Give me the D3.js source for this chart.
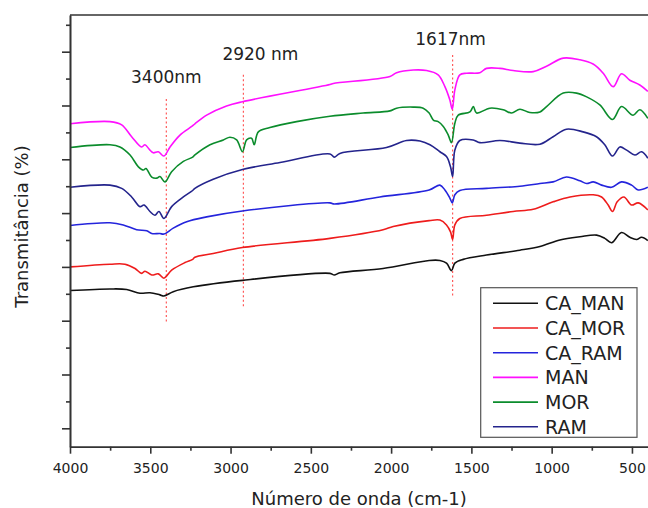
<!DOCTYPE html>
<html>
<head>
<meta charset="utf-8">
<script src="https://cdn.jsdelivr.net/npm/d3@7"></script>
<style>
  html, body { margin: 0; padding: 0; background: #fff; }
  svg { display: block; font-family: "DejaVu Sans", Verdana, sans-serif; }
</style>
</head>
<body>
<svg id="chart" width="648" height="508"></svg>
<script>
// ---- Data (wavenumber cm-1, transmittance in arbitrary units) ----
const seriesNames = ["CA_MAN", "CA_MOR", "CA_RAM", "MAN", "MOR", "RAM"];
const seriesColors = ["#111111", "#ee1c1c", "#2424dc", "#ff10ff", "#0b8c2c", "#24248c"];

const CA_MAN = [[4000,25.6],[3751,25.9],[3647,25.8],[3564,25.1],[3502,25.2],[3440,24.8],[3415,24.6],[3357,25.4],[3232,26.3],[2926,27.5],[2381,28.8],[2354,28.5],[2319,28.9],[2050,29.7],[1763,31.2],[1696,31.2],[1655,30.7],[1624,29.3],[1603,30.7],[1551,31.4],[1406,32.2],[1198,33.1],[1073,33.8],[949,35.0],[824,35.6],[720,35.9],[669,35.3],[627,34.5],[565,36.4],[513,35.5],[471,35.1],[440,35.5],[401,34.9]];

const CA_MOR = [[4000,30.0],[3751,30.5],[3658,30.5],[3595,29.7],[3554,28.8],[3533,29.2],[3491,28.5],[3450,28.7],[3415,27.9],[3367,29.4],[3284,30.8],[3236,31.4],[3222,31.8],[3108,32.5],[2926,33.6],[2381,35.3],[2050,36.9],[1987,37.5],[1763,38.6],[1696,38.7],[1655,37.8],[1630,36.5],[1617,35.1],[1603,37.8],[1572,39.0],[1406,39.6],[1240,40.3],[1115,40.7],[991,42.1],[886,43.0],[741,43.4],[689,43.0],[648,41.5],[621,40.3],[592,42.1],[550,43.0],[502,41.5],[461,41.9],[401,40.6]];

const CA_RAM = [[4000,37.7],[3751,38.2],[3668,37.8],[3585,36.9],[3522,36.7],[3491,36.2],[3440,36.2],[3415,36.1],[3357,37.2],[3273,38.4],[3149,39.3],[2926,40.4],[2381,41.9],[2354,41.7],[2070,43.0],[1763,44.3],[1696,45.2],[1665,44.3],[1634,42.8],[1619,41.9],[1603,43.4],[1572,44.2],[1406,44.6],[1198,45.0],[1073,45.5],[991,45.8],[908,46.7],[824,46.0],[782,45.5],[741,45.8],[689,45.2],[627,44.8],[565,45.8],[502,45.2],[461,44.3],[401,44.8]];

const MAN = [[4000,56.6],[3751,57.0],[3678,56.4],[3616,54.2],[3554,52.3],[3533,52.7],[3502,51.7],[3481,51.2],[3450,51.4],[3415,50.6],[3377,52.3],[3315,54.5],[3242,56.1],[3222,56.6],[3149,58.2],[3025,59.9],[2926,60.7],[2381,63.9],[2360,64.1],[2007,65.4],[1966,66.1],[1862,66.6],[1779,66.5],[1707,65.7],[1665,63.5],[1634,61.0],[1619,59.3],[1603,62.9],[1572,65.7],[1530,66.0],[1447,66.1],[1406,66.9],[1322,66.9],[1240,66.5],[1115,66.3],[1032,67.3],[928,68.8],[824,68.5],[742,67.7],[679,66.0],[617,63.5],[565,65.9],[513,64.7],[451,63.8],[401,62.6]];

const MOR = [[4000,52.2],[3751,52.7],[3689,52.3],[3626,50.8],[3574,48.6],[3543,48.0],[3527,48.3],[3491,46.7],[3460,46.5],[3440,46.8],[3409,45.8],[3367,47.7],[3294,49.6],[3236,50.4],[3222,50.8],[3128,52.7],[3045,53.6],[3004,54.1],[2962,53.6],[2926,51.4],[2900,53.6],[2869,53.9],[2853,52.7],[2827,55.1],[2755,55.9],[2589,57.0],[2381,58.0],[2174,58.6],[2007,59.0],[1966,59.5],[1862,59.7],[1800,59.5],[1763,58.6],[1737,57.3],[1707,57.0],[1675,56.1],[1644,54.5],[1624,53.1],[1603,56.7],[1582,58.2],[1509,58.8],[1488,59.8],[1468,58.6],[1385,59.5],[1302,59.2],[1250,58.6],[1198,59.3],[1136,58.7],[1073,58.8],[1032,59.8],[928,62.3],[845,62.3],[782,61.6],[700,60.1],[621,57.4],[565,59.8],[493,58.2],[451,59.2],[401,57.6]];

const RAM = [[4000,44.8],[3751,45.2],[3678,44.6],[3616,43.0],[3564,41.2],[3539,41.5],[3502,40.3],[3471,39.6],[3446,40.3],[3415,39.0],[3367,41.2],[3294,43.0],[3236,44.2],[3222,44.6],[3108,46.3],[2926,48.1],[2692,49.4],[2381,51.0],[2354,50.4],[2319,51.1],[2029,52.2],[1904,53.5],[1820,53.4],[1758,52.7],[1696,51.4],[1655,50.5],[1630,48.6],[1617,46.8],[1603,51.7],[1572,53.5],[1489,53.6],[1447,53.1],[1322,53.5],[1198,53.0],[1073,52.8],[991,54.2],[908,55.6],[804,55.1],[721,54.2],[669,52.7],[621,50.6],[575,52.3],[533,51.7],[482,50.8],[440,51.4],[401,50.2]];

const seriesData = [CA_MAN, CA_MOR, CA_RAM, MAN, MOR, RAM];

// Axis ticks
const xMajorTicks = [4000, 3500, 3000, 2500, 2000, 1500, 1000, 500];
const xMinorTicks = [3750, 3250, 2750, 2250, 1750, 1250, 750];
const yMajorTicks = [0, 10, 20, 30, 40, 50, 60, 70];
const yMinorTicks = [5, 15, 25, 35, 45, 55, 65, 75];

// Band annotations
const bandWavenumbers = [3400, 2920, 1617];
const bandLabels = ["3400nm", "2920 nm", "1617nm"];
const bandTop = [61.2, 65.7, 69.4];
const bandBottom = [19.6, 22.4, 24.4];

const xTitle = "Número de onda (cm-1)";
const yTitle = "Transmitância (%)";

(function () {
// ---- Layout ----
const pLeft = 70, pRight = 648, pTop = 15, pBottom = 446.7;

const svg = d3.select("#chart");

const x = d3.scaleLinear().domain([4000, 400]).range([pLeft, pRight]);
const y = d3.scaleLinear().domain([-3.42, 76.82]).range([pBottom, pTop]);

const axisColor = "#333";

svg.append("defs").append("clipPath").attr("id", "clip")
  .append("rect").attr("x", pLeft).attr("y", pTop).attr("width", pRight - pLeft).attr("height", pBottom - pTop);

// Band dashed lines
const bandG = svg.append("g");
bandWavenumbers.forEach((wn, i) => {
  bandG.append("line")
    .attr("x1", x(wn)).attr("x2", x(wn))
    .attr("y1", y(bandTop[i])).attr("y2", y(bandBottom[i]))
    .attr("stroke", "#ff5a5a").attr("stroke-width", 1.2)
    .attr("stroke-dasharray", "2,2.5");
});
const bandOffsets = [0, 17, -2];
const bandBaselines = [83.3, 60, 45];
bandWavenumbers.forEach((wn, i) => {
  svg.append("text")
    .attr("x", x(wn) + bandOffsets[i])
    .attr("y", bandBaselines[i])
    .attr("text-anchor", "middle")
    .attr("font-size", 17)
    .attr("fill", "#222")
    .text(bandLabels[i]);
});

// Lines
const line = d3.line()
  .x(d => x(d[0]))
  .y(d => y(d[1]))
  .curve(d3.curveCatmullRom.alpha(0.5));

const linesG = svg.append("g").attr("clip-path", "url(#clip)");
seriesData.forEach((data, i) => {
  linesG.append("path")
    .datum(data)
    .attr("fill", "none")
    .attr("stroke", seriesColors[i])
    .attr("stroke-width", 1.6)
    .attr("stroke-linejoin", "round")
    .attr("d", line);
});

// Axes
const xAxisMajor = d3.axisBottom(x).tickValues(xMajorTicks).tickSize(7).tickSizeOuter(0)
  .tickPadding(9.7).tickFormat(d3.format("d"));
const xAxisMinor = d3.axisBottom(x).tickValues(xMinorTicks).tickSize(4).tickSizeOuter(0).tickFormat("");
const gx = svg.append("g").attr("transform", `translate(0,${pBottom})`).call(xAxisMajor);
const gx2 = svg.append("g").attr("transform", `translate(0,${pBottom})`).call(xAxisMinor);
[gx, gx2].forEach(g => {
  g.selectAll("path,line").attr("stroke", axisColor).attr("stroke-width", 1.6);
  g.selectAll("text").attr("font-size", 14).attr("fill", "#222")
    .attr("font-family", "'DejaVu Sans', Verdana, sans-serif");
});

const yAxisMajor = d3.axisLeft(y).tickValues(yMajorTicks).tickSize(8).tickSizeOuter(0).tickFormat("");
const yAxisMinor = d3.axisLeft(y).tickValues(yMinorTicks).tickSize(4).tickSizeOuter(0).tickFormat("");
const gy = svg.append("g").attr("transform", `translate(${pLeft},0)`).call(yAxisMajor);
const gy2 = svg.append("g").attr("transform", `translate(${pLeft},0)`).call(yAxisMinor);
[gy, gy2].forEach(g => {
  g.selectAll("path,line").attr("stroke", axisColor).attr("stroke-width", 1.6);
});

// Top spine
svg.append("line").attr("x1", pLeft).attr("x2", pRight).attr("y1", pTop).attr("y2", pTop)
  .attr("stroke", axisColor).attr("stroke-width", 1.6);

// Axis titles
svg.append("text")
  .attr("x", 359).attr("y", 505)
  .attr("text-anchor", "middle").attr("font-size", 18).attr("fill", "#222")
  .text(xTitle);
svg.append("text")
  .attr("transform", "translate(27.5,226.5) rotate(-90)")
  .attr("text-anchor", "middle").attr("font-size", 18).attr("fill", "#222")
  .text(yTitle);

// Legend
const lg = svg.append("g");
lg.append("rect")
  .attr("x", 480.7).attr("y", 287.7).attr("width", 156.3).attr("height", 149.6)
  .attr("fill", "#fff").attr("stroke", "#555").attr("stroke-width", 1.2);
seriesNames.forEach((name, i) => {
  const ly = 303.3 + i * 24.7;
  lg.append("line").attr("x1", 493).attr("x2", 538).attr("y1", ly).attr("y2", ly)
    .attr("stroke", seriesColors[i]).attr("stroke-width", 1.6);
  lg.append("text").attr("x", 545).attr("y", ly + 6.8)
    .attr("font-size", 19).attr("fill", "#222").text(name);
});
})();
</script>
</body>
</html>
